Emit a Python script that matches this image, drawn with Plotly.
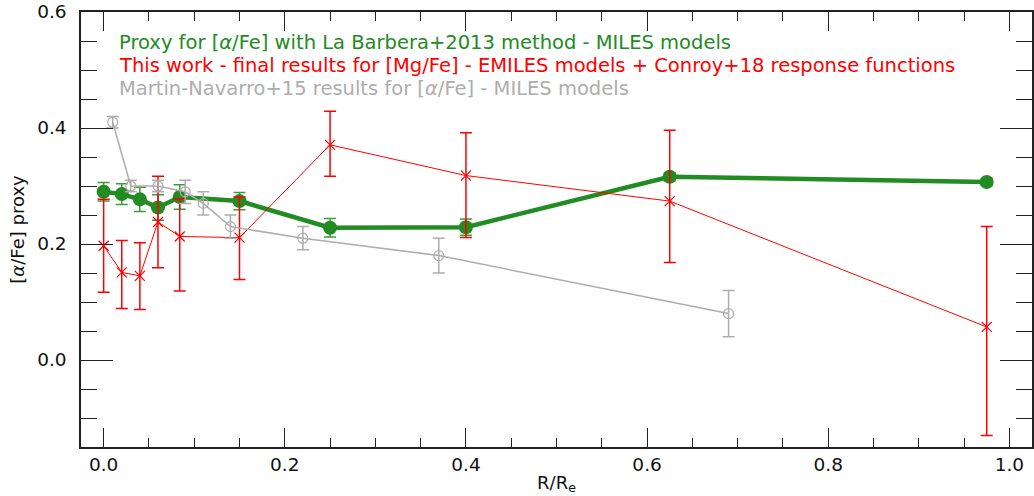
import plotly.graph_objects as go

# Green: proxy for [alpha/Fe] (La Barbera+2013 method)
green_x = [0.0, 0.02, 0.04, 0.06, 0.084, 0.15, 0.25, 0.40, 0.625, 0.975]
green_y = [0.290, 0.286, 0.277, 0.263, 0.281, 0.274, 0.228, 0.229, 0.316, 0.307]
green_err = [0.016, 0.018, 0.021, 0.022, 0.021, 0.015, 0.016, 0.014, 0.007, 0.006]

# Red: this work [Mg/Fe]
red_x = [0.0, 0.02, 0.04, 0.06, 0.084, 0.15, 0.25, 0.40, 0.625, 0.975]
red_y = [0.197, 0.151, 0.145, 0.238, 0.213, 0.211, 0.371, 0.318, 0.274, 0.057]
red_err_plus = [0.080, 0.055, 0.057, 0.079, 0.065, 0.070, 0.058, 0.074, 0.122, 0.173]
red_err_minus = [0.080, 0.062, 0.058, 0.079, 0.094, 0.072, 0.054, 0.107, 0.106, 0.187]

# Gray: Martin-Navarro+15
gray_x = [0.01, 0.03, 0.06, 0.09, 0.11, 0.14, 0.22, 0.37, 0.69]
gray_y = [0.41, 0.30, 0.30, 0.29, 0.27, 0.23, 0.21, 0.18, 0.08]
gray_err = [0.01, 0.01, 0.01, 0.02, 0.02, 0.02, 0.02, 0.03, 0.04]

legend_texts = [
    "Proxy for [<i>α</i>/Fe] with La Barbera+2013 method - MILES models",
    "This work - final results for [Mg/Fe] - EMILES models + Conroy+18 response functions",
    "Martin-Navarro+15 results for [<i>α</i>/Fe] - MILES models",
]
GREEN = "#228B22"
RED = "#FF0000"
GRAY = "#ADADAD"
legend_colors = [GREEN, RED, GRAY]

plot_left, plot_right = 81, 1032
plot_top, plot_bottom = 12, 447
W = plot_right - plot_left
H = plot_bottom - plot_top

fig = go.Figure()
fig.add_trace(go.Scatter(
    x=green_x, y=green_y, mode="lines+markers",
    line=dict(color=GREEN, width=4.5),
    marker=dict(symbol="circle", size=14, color=GREEN),
    error_y=dict(type="data", array=green_err, color="#3C9B3C", thickness=1.5, width=6),
    showlegend=False,
))
fig.add_trace(go.Scatter(
    x=red_x, y=red_y, mode="lines+markers",
    line=dict(color=RED, width=1),
    marker=dict(symbol="x-thin", size=10, color=RED, line=dict(color=RED, width=1.2)),
    error_y=dict(type="data", symmetric=False, array=red_err_plus, arrayminus=red_err_minus,
                 color=RED, thickness=1.5, width=6),
    showlegend=False,
))
fig.add_trace(go.Scatter(
    x=gray_x, y=gray_y, mode="lines+markers",
    line=dict(color=GRAY, width=1.5),
    marker=dict(symbol="circle-open", size=10, color=GRAY, line=dict(color=GRAY, width=1.2)),
    error_y=dict(type="data", array=gray_err, color=GRAY, thickness=1.5, width=6),
    showlegend=False,
))

for t, c, ypx in zip(legend_texts, legend_colors, [43, 65, 88]):
    fig.add_annotation(
        x=(117 - plot_left) / W, xref="paper", y=(plot_bottom - ypx) / H, yref="paper",
        text=t, showarrow=False, font=dict(color=c, size=19.5, family="DejaVu Sans"),
        xanchor="left", yanchor="middle",
    )

axis_common = dict(
    showline=True, linecolor="#222222", linewidth=1.5, mirror="ticks",
    ticks="inside", tickcolor="#222222", tickwidth=1.2,
    showgrid=False, zeroline=False,
    tickfont=dict(size=18.5, family="DejaVu Sans", color="#111111"),
)
fig.update_xaxes(
    range=[-0.025, 1.025], tick0=0, dtick=0.2, ticklen=19, tickformat=".1f",
    minor=dict(dtick=0.05, ticks="inside", ticklen=9, tickcolor="#222222", tickwidth=1.2, showgrid=False),
    title=dict(text="R/R<sub>e</sub>", font=dict(size=18, family="DejaVu Sans", color="#111111"), standoff=2),
    **axis_common,
)
fig.update_yaxes(
    range=[-0.15, 0.6], tick0=0, dtick=0.2, ticklen=32, tickformat=".1f",
    minor=dict(dtick=0.05, ticks="inside", ticklen=16, tickcolor="#222222", tickwidth=1.2, showgrid=False),
    title=dict(text="[<i>α</i>/Fe] proxy", font=dict(size=18, family="DejaVu Sans", color="#111111"), standoff=8),
    ticklabelstandoff=9,
    **axis_common,
)
fig.update_layout(
    width=1034, height=496,
    margin=dict(l=plot_left, r=1034 - plot_right, t=plot_top, b=496 - plot_bottom, autoexpand=False),
    paper_bgcolor="white", plot_bgcolor="white",
    font=dict(family="DejaVu Sans"),
)
fig.write_html("out.html")
